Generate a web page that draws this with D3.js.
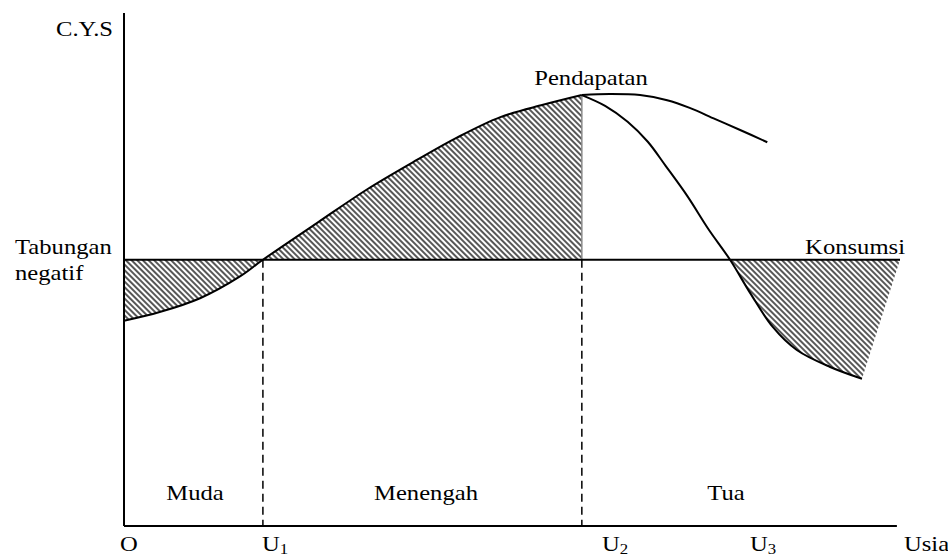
<!DOCTYPE html>
<html>
<head>
<meta charset="utf-8">
<script src="https://cdnjs.cloudflare.com/ajax/libs/d3/7.8.5/d3.min.js"></script>
<style>
  body { margin: 0; background: #fff; }
  text { font-family: "Liberation Serif", "Times New Roman", serif; fill: #000; }
</style>
</head>
<body>
<script>
// life cycle chart: income curve vs flat consumption

// income (Pendapatan) from birth up to U2
const ageRise = [0, 4.6, 9.8, 15, 17.9, 24.9, 31.3, 37.8, 42.9, 48.5, 54, 59];
const incomeRise = [40, 41.7, 44.4, 48.7, 51.9, 59.1, 65.6, 71.4, 75.7, 79.7, 82.1, 84];

// upper branch after U2
const ageUpper = [59, 62.6, 66.5, 70, 72.9, 76.2, 79.4, 82.9];
const incomeUpper = [84, 84.2, 84, 83, 81.5, 79.3, 77.2, 74.8];

// lower branch after U2 (falls below consumption)
const ageLower = [59, 62, 64.9, 67.5, 69.8, 72.6, 75.3, 78.1, 80.7, 83.6, 86.7, 91, 95.1];
const incomeLower = [84, 81.9, 78.8, 74.9, 70.2, 64.3, 57.9, 51.9, 45.4, 38.8, 34.3, 31, 28.7];

const konsumsi = 51.9;
const ageU2 = 59, ageEnd = 100, axisEnd = 99.6;

const tickLabels = [
  { x: 120, main: "O", sub: "" },
  { x: 262, main: "U", sub: "1" },
  { x: 602, main: "U", sub: "2" },
  { x: 750, main: "U", sub: "3" },
  { x: 904, main: "Usia", sub: "" }
];
const phases = [
  { name: "Muda", x: 195 },
  { name: "Menengah", x: 426 },
  { name: "Tua", x: 726 }
];
const dashedAges = [17.9, 59];

let svg = null;
let x, y = null;

const width = 948, height = 558;
const fs = 22, stretch = 1.12;

appendSvg("body");
setupScales();
drawChart();

function appendSvg(domElement) {
  svg = d3.select(domElement).append("svg")
    .attr("width", width)
    .attr("height", height);

  const defs = svg.append("defs");
  // hatch pattern "\\\\"
  const pat = defs.append("pattern")
    .attr("id", "hatch")
    .attr("patternUnits", "userSpaceOnUse")
    .attr("width", 4)
    .attr("height", 4)
    .attr("patternTransform", "rotate(-45)");
  pat.append("line")
    .attr("x1", 1).attr("y1", 0)
    .attr("x2", 1).attr("y2", 4)
    .style("stroke", "#3a3a3a")
    .style("stroke-width", 1.7);
}

function setupScales() {
  x = d3.scaleLinear().domain([0, 100]).range([124, 900]);
  y = d3.scaleLinear().domain([0, 100]).range([526, 13]);

  // clip for the part below consumption line
  svg.select("defs").append("clipPath")
    .attr("id", "below")
    .append("rect")
    .attr("x", 0).attr("y", y(konsumsi))
    .attr("width", width).attr("height", height);
}

function zip(ages, vals) {
  return ages.map((a, i) => ({ age: a, v: vals[i] }));
}

function drawChart() {
  const rise = zip(ageRise, incomeRise);
  const upper = zip(ageUpper, incomeUpper);
  const lower = zip(ageLower, incomeLower);

  appendHatches(rise, lower);
  appendGuides();
  appendAxes();
  appendCurves(rise, upper, lower);
  appendLabels();
}

function appendHatches(rise, lower) {
  const area = d3.area()
    .x(d => x(d.age))
    .y0(y(konsumsi))
    .y1(d => y(d.v))
    .curve(d3.curveCatmullRom);

  svg.append("path")
    .datum(rise)
    .attr("d", area)
    .style("fill", "url(#hatch)");

  // old age: under consumption, closed by a straight edge to the end of the line
  const line = d3.line().x(d => x(d.age)).y(d => y(d.v)).curve(d3.curveCatmullRom);
  svg.append("path")
    .attr("d", line(lower) + `L${x(ageEnd)},${y(konsumsi)}L${x(ageU2)},${y(konsumsi)}Z`)
    .attr("clip-path", "url(#below)")
    .style("fill", "url(#hatch)");
}

function appendGuides() {
  // grey edge of hatch at U2
  svg.append("line")
    .attr("x1", x(ageU2)).attr("x2", x(ageU2))
    .attr("y1", y(konsumsi)).attr("y2", y(incomeRise[incomeRise.length - 1]))
    .style("stroke", "#8a8a8a")
    .style("stroke-width", 1.5);

  svg.selectAll(".guide")
    .data(dashedAges)
    .enter().append("line")
    .attr("class", "guide")
    .attr("x1", d => x(d)).attr("x2", d => x(d))
    .attr("y1", y(konsumsi)).attr("y2", y(0))
    .style("stroke", "#000")
    .style("stroke-width", 1.5)
    .style("stroke-dasharray", "8,5");
}

function appendAxes() {
  // Y axis
  svg.append("line")
    .attr("x1", x(0)).attr("x2", x(0))
    .attr("y1", y(100)).attr("y2", y(0))
    .style("stroke", "#000").style("stroke-width", 2);
  // X axis
  svg.append("line")
    .attr("x1", x(0)).attr("x2", x(axisEnd))
    .attr("y1", y(0)).attr("y2", y(0))
    .style("stroke", "#000").style("stroke-width", 2);
  // Konsumsi line
  svg.append("line")
    .attr("x1", x(0)).attr("x2", x(ageEnd))
    .attr("y1", y(konsumsi)).attr("y2", y(konsumsi))
    .style("stroke", "#000").style("stroke-width", 1.8);
}

function appendCurves(rise, upper, lower) {
  const line = d3.line()
    .x(d => x(d.age))
    .y(d => y(d.v))
    .curve(d3.curveCatmullRom);

  svg.selectAll(".curve")
    .data([rise, upper, lower])
    .enter().append("path")
    .attr("class", "curve")
    .attr("d", line)
    .style("fill", "none")
    .style("stroke", "#000")
    .style("stroke-width", 2);
}

// text is a bit wider than Times in the original
function addText(px, py, str, anchor) {
  return svg.append("g")
    .attr("transform", `translate(${px},${py}) scale(${stretch},1)`)
    .append("text")
    .style("text-anchor", anchor || "start")
    .style("font-size", fs + "px")
    .text(str);
}

function appendLabels() {
  tickLabels.forEach(function (d) {
    const t = addText(d.x, 551, d.main);
    if (d.sub) {
      t.append("tspan")
        .attr("dy", 3)
        .style("font-size", "15px")
        .text(d.sub);
    }
  });

  phases.forEach(d => addText(d.x, 500, d.name, "middle"));

  addText(113, 36, "C.Y.S", "end");
  addText(591, 85, "Pendapatan", "middle");
  addText(905, 254, "Konsumsi", "end");
  addText(15, 254, "Tabungan");
  addText(15, 280, "negatif");
}
</script>
</body>
</html>
